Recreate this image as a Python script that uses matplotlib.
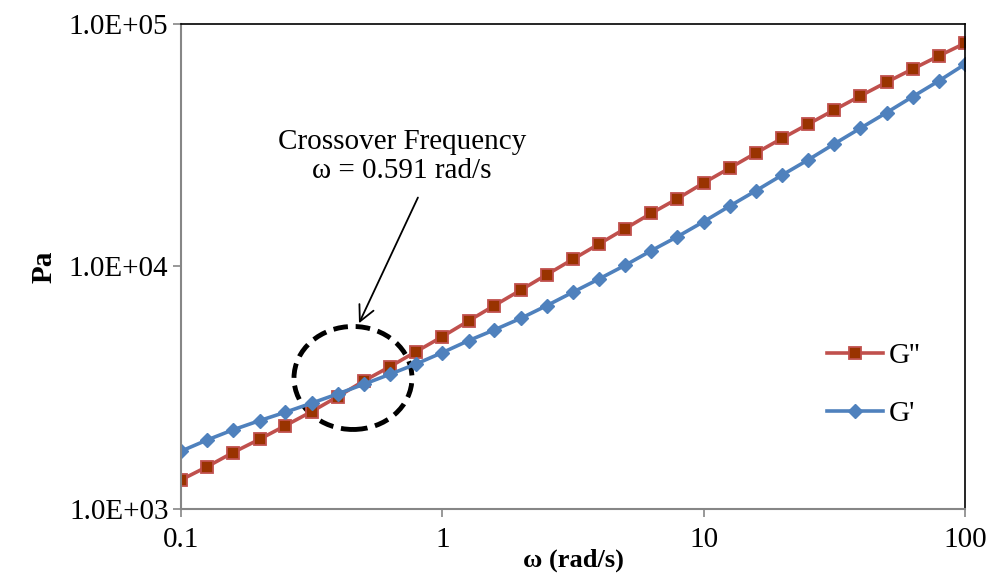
import matplotlib.pyplot as plt
from matplotlib.patches import Ellipse
from matplotlib.ticker import FuncFormatter, NullLocator

plt.rcParams['font.family'] = ['Liberation Serif', 'DejaVu Serif']

# angular frequency sweep, rad/s
omega = [0.1, 0.126, 0.158, 0.2, 0.251, 0.316, 0.398, 0.501, 0.631, 0.794,
         1.0, 1.26, 1.58, 2.0, 2.51, 3.16, 3.98, 5.01, 6.31, 7.94,
         10.0, 12.6, 15.8, 20.0, 25.1, 31.6, 39.8, 50.1, 63.1, 79.4, 100.0]

# loss modulus G'' (Pa)
g_loss = [1317, 1494, 1707, 1939, 2206, 2519, 2905, 3372, 3863, 4453,
          5134, 5961, 6893, 8000, 9251, 10708, 12382, 14320, 16574, 19034,
          22100, 25480, 29300, 33790, 38590, 44200, 50490, 57480, 65220, 73800, 83260]

# storage modulus G' (Pa)
g_storage = [1730, 1925, 2118, 2313, 2505, 2729, 2981, 3268, 3593, 3962,
             4411, 4943, 5472, 6115, 6893, 7830, 8881, 10113, 11620, 13270,
             15300, 17760, 20480, 23840, 27500, 32010, 37150, 43070, 50140, 58200, 68200]

fig = plt.figure(figsize=(9.89, 5.77), dpi=100)
ax = fig.add_axes([0.183, 0.118, 0.7927, 0.8405])

ax.plot(omega, g_loss, '-s', color='#C0504D', lw=2.6, markersize=8,
        markerfacecolor='#993300', markeredgecolor='#C0504D', markeredgewidth=1.3,
        label="G''")
ax.plot(omega, g_storage, '-D', color='#4F81BD', lw=2.6, markersize=7,
        markerfacecolor='#4F81BD', markeredgecolor='#4F81BD', label="G'")

ax.set_xscale('log')
ax.set_yscale('log')
ax.set_xlim(0.1, 100)
ax.set_ylim(1e3, 1e5)
ax.set_xticks([0.1, 1, 10, 100])
ax.set_yticks([1e3, 1e4, 1e5])
ax.xaxis.set_minor_locator(NullLocator())
ax.yaxis.set_minor_locator(NullLocator())
ax.xaxis.set_major_formatter(FuncFormatter(lambda v, p: f'{v:g}'))
ax.yaxis.set_major_formatter(FuncFormatter(lambda v, p: f'{v:.1E}'))

for side in ['left', 'bottom']:
    ax.spines[side].set_color('#868686')
    ax.spines[side].set_linewidth(1.5)
for side in ['top', 'right']:
    ax.spines[side].set_color('black')
    ax.spines[side].set_linewidth(1.2)
ax.tick_params(axis='both', which='major', direction='out', length=6, width=1.2,
               color='#868686', labelsize=21)
ax.tick_params(axis='x', pad=7)
ax.tick_params(axis='y', pad=3)

ax.set_xlabel('ω (rad/s)', fontsize=19, fontweight='bold', labelpad=-3)
ax.set_ylabel('Pa', fontsize=21, fontweight='bold', labelpad=8)

ax.legend(loc='center left', bbox_to_anchor=(0.791, 0.256), frameon=False,
          fontsize=21, handlelength=1.9, handletextpad=0.2, labelspacing=1.1)

# crossover annotation
ax.text(0.70, 28300, 'Crossover Frequency\nω = 0.591 rad/s', ha='center', va='center',
        fontsize=21, linespacing=1.15)
ax.annotate('', xy=(0.475, 5690), xytext=(0.815, 19700),
            arrowprops=dict(arrowstyle='->', color='black', lw=1.3, mutation_scale=28))
ax.add_patch(Ellipse((0.2194, 0.270), 0.1505, 0.2124, transform=ax.transAxes,
                     fill=False, edgecolor='black', lw=3.5, linestyle=(0, (3, 1.6))))

fig.savefig('out.png', dpi=100)
